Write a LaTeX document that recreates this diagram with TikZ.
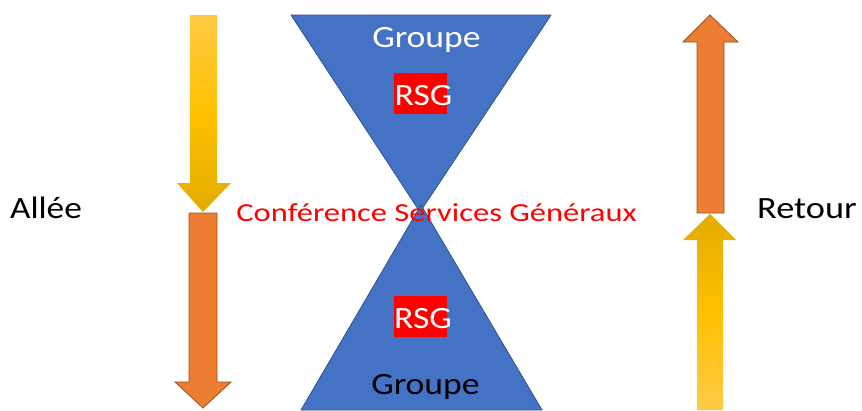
\documentclass[tikz,border=0pt]{standalone}
\usepackage{fontspec}
\setmainfont{Carlito}
\definecolor{triblue}{HTML}{4472C4}
\definecolor{triedge}{HTML}{2F528F}
\definecolor{orgfill}{HTML}{ED7D31}
\definecolor{orgedge}{HTML}{9E4F1C}
\definecolor{ylight}{HTML}{FFCB45}
\definecolor{ymid}{HTML}{FFC000}
\definecolor{ydark}{HTML}{E2AC00}
\definecolor{rsgred}{HTML}{FF0000}
\tikzset{
  tri/.style={fill=triblue, draw=triedge, line width=0.8pt, line join=miter},
  orgarrow/.style={fill=orgfill, draw=orgedge, line width=0.8pt},
  ydown/.style={top color=ylight, bottom color=ydark, middle color=ymid},
  yup/.style={top color=ydark, bottom color=ylight, middle color=ymid},
  lbl/.style={inner sep=0pt, anchor=base, font=\fontsize{31}{31}\selectfont},
  redbox/.style={fill=rsgred, draw=none, inner sep=0pt, minimum width=53pt, minimum height=41pt},
}
\begin{document}
\begin{tikzpicture}[x=1pt,y=-1pt]
\useasboundingbox (0,0) rectangle (862,410);
% triangles
\draw[tri] (291,15) -- (551,15) -- (420,212) -- cycle;
\draw[tri] (421,205) -- (542,410) -- (301,410) -- cycle;
% left arrows
\shade[ydown] (190,15) -- (217,15) -- (217,183) -- (231,183) -- (203,212) -- (177,183) -- (190,183) -- cycle;
\draw[orgarrow] (189,213) -- (217,213) -- (217,382) -- (231,382) -- (203,408) -- (175,382) -- (189,382) -- cycle;
% right arrows
\draw[orgarrow] (697,213) -- (697,42) -- (683,42) -- (710,15) -- (738,42) -- (724,42) -- (724,213) -- cycle;
\shade[yup] (697,410) -- (697,240) -- (683,240) -- (710,214) -- (736,240) -- (723,240) -- (723,410) -- cycle;
% red boxes
\node[redbox] (rsgboxtop) at (420.5,93) {};
\node[redbox] (rsgboxbot) at (420,316.5) {};
% texts
\node[lbl, text=white] (groupetop) at (426.5,47) {\scalebox{1.15}[1]{Groupe}};
\node[lbl, text=white] (rsgtop) at (423.5,105) {\scalebox{1.15}[1]{RSG}};
\node[lbl, text=white] (rsgbot) at (423,328) {\scalebox{1.15}[1]{RSG}};
\node[lbl, text=black] (groupebot) at (425.5,394) {\scalebox{1.15}[1]{Groupe}};
\node[lbl, text=black] (allee) at (46,218) {\scalebox{1.14}[1]{Allée}};
\node[lbl, text=black] (retour) at (807,218) {\scalebox{1.17}[1]{Retour}};
\node[lbl, text=rsgred, font=\fontsize{26}{26}\selectfont] (conf) at (436.5,221) {\scalebox{1.25}[1]{Conférence Services Généraux}};
\end{tikzpicture}
\end{document}
